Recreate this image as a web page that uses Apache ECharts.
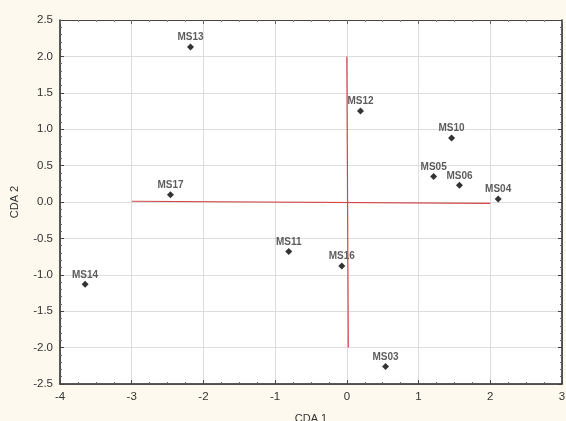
<!DOCTYPE html>
<html><head><meta charset="utf-8">
<script src="https://cdn.jsdelivr.net/npm/echarts@6/dist/echarts.min.js"></script>
<style>html,body{margin:0;padding:0;background:#fdf9ee;}#c{width:566px;height:421px;}</style>
</head><body><div id="c"></div>
<script>
const names = ['MS13','MS17','MS12','MS10','MS05','MS06','MS04','MS14','MS11','MS16','MS03'];
const cda1 = [-2.18,-2.46,0.19,1.46,1.21,1.57,2.11,-3.65,-0.81,-0.07,0.54];
const cda2 = [2.13,0.10,1.25,0.88,0.35,0.23,0.04,-1.13,-0.68,-0.88,-2.26];
const hLine = [[-3,0.01],[2,-0.02]];
const vLine = [[0.0,2.0],[0.02,-2.0]];

const pts = names.map((n,i)=>({name:n,value:[cda1[i],cda2[i]]}));
const chart = echarts.init(document.getElementById('c'));
const tickFont = {fontFamily:'Liberation Sans, Arial', fontSize:11.5, color:'#333'};
chart.setOption({
  backgroundColor:'#fdf9ee',
  animation:false,
  grid:{left:60,right:4,top:20,bottom:37,show:true,backgroundColor:'#ffffff',borderWidth:0,
        containLabel:false,outerBoundsMode:'none'},
  xAxis:[{
    type:'value',min:-4,max:3,interval:1,
    name:'CDA 1',nameLocation:'middle',nameGap:29,
    nameTextStyle:{fontFamily:'Liberation Sans, Arial',fontSize:11,color:'#333'},
    axisLine:{onZero:false,lineStyle:{color:'#222',width:1.5}},
    axisTick:{inside:true,length:4,lineStyle:{color:'#444'}},
    minorTick:{show:true,splitNumber:4,length:2,lineStyle:{color:'#666'}},
    axisLabel:Object.assign({margin:7},tickFont),
    splitLine:{show:true,lineStyle:{color:'#dddddd'}}
  },{
    type:'value',min:-4,max:3,interval:1,position:'top',
    axisLine:{onZero:false,lineStyle:{color:'#444',width:1}},
    axisTick:{inside:true,length:4,lineStyle:{color:'#666'}},
    minorTick:{show:true,splitNumber:4,length:2,lineStyle:{color:'#888'}},
    axisLabel:{show:false},splitLine:{show:false}
  }],
  yAxis:[{
    type:'value',min:-2.5,max:2.5,interval:0.5,
    name:'CDA 2',nameLocation:'middle',nameGap:40,
    nameTextStyle:{fontFamily:'Liberation Sans, Arial',fontSize:11,color:'#333'},
    axisLine:{onZero:false,lineStyle:{color:'#222',width:1.5}},
    axisTick:{inside:true,length:4,lineStyle:{color:'#444'}},
    minorTick:{show:true,splitNumber:5,length:2,lineStyle:{color:'#666'}},
    axisLabel:Object.assign({margin:7,formatter:v=>v.toFixed(1)},tickFont),
    splitLine:{show:true,lineStyle:{color:'#dddddd'}}
  },{
    type:'value',min:-2.5,max:2.5,interval:0.5,position:'right',
    axisLine:{show:true,onZero:false,lineStyle:{color:'#222',width:1.5}},
    axisTick:{inside:true,length:4,lineStyle:{color:'#444'}},
    minorTick:{show:true,splitNumber:5,length:2,lineStyle:{color:'#666'}},
    axisLabel:{show:false},splitLine:{show:false}
  }],
  series:[
    {type:'line',data:hLine,symbol:'none',lineStyle:{color:'#d04848',width:1.2},silent:true},
    {type:'line',data:vLine,symbol:'none',lineStyle:{color:'#d04848',width:1.2},silent:true},
    {type:'scatter',data:pts,symbol:'diamond',symbolSize:7,
     itemStyle:{color:'#000'},
     label:{show:true,position:'top',distance:1,formatter:p=>p.name,
       fontFamily:'Liberation Sans, Arial',fontSize:10,fontWeight:'bold',color:'#333'}}
  ]
});
</script></body></html>
